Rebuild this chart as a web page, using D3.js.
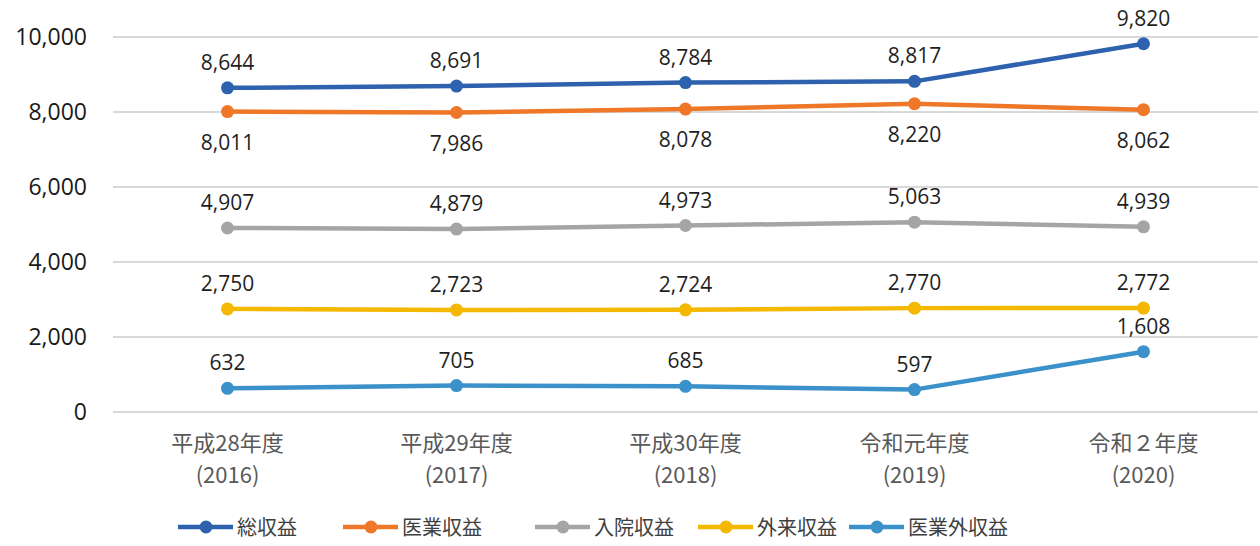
<!DOCTYPE html>
<html>
<head>
<meta charset="utf-8">
<script src="https://cdn.jsdelivr.net/npm/d3@7"></script>
<style>
  html, body { margin: 0; padding: 0; background: #fff; }
  svg text { font-family: "Noto Sans CJK JP", "Noto Sans", sans-serif; }
</style>
</head>
<body>
<svg id="chart" width="1260" height="546"></svg>
<script>
// 年度ラベル
const categories = ['平成28年度', '平成29年度', '平成30年度', '令和元年度', '令和２年度'];
const years = ['(2016)', '(2017)', '(2018)', '(2019)', '(2020)'];

// 系列データ
const seriesNames = ['総収益', '医業収益', '入院収益', '外来収益', '医業外収益'];
const totalRevenue = [8644, 8691, 8784, 8817, 9820];
const medicalRevenue = [8011, 7986, 8078, 8220, 8062];
const inpatientRevenue = [4907, 4879, 4973, 5063, 4939];
const outpatientRevenue = [2750, 2723, 2724, 2770, 2772];
const nonMedicalRevenue = [632, 705, 685, 597, 1608];
const yTicks = [0, 2000, 4000, 6000, 8000, 10000];

const colors = ['#2E62AE', '#EE7728', '#A5A5A5', '#F4B800', '#3B92CA'];
const labelPos = ['above', 'below', 'above', 'above', 'above'];
const seriesValues = [totalRevenue, medicalRevenue, inpatientRevenue, outpatientRevenue, nonMedicalRevenue];

const svg = d3.select('#chart');
const plotLeft = 113, plotRight = 1258, plotTop = 37, plotBottom = 412;

const x = d3.scaleBand().domain(categories).range([plotLeft, plotRight]);
const y = d3.scaleLinear().domain([0, 10000]).range([plotBottom, plotTop]);
const fmt = d3.format(',');

// グリッド線
svg.append('g')
  .selectAll('line')
  .data(yTicks)
  .join('line')
  .attr('x1', plotLeft).attr('x2', plotRight)
  .attr('y1', d => y(d)).attr('y2', d => y(d))
  .attr('stroke', '#d9d9d9')
  .attr('stroke-width', 2);

// Y軸ラベル
const yAxis = svg.append('g')
  .attr('transform', `translate(${plotLeft - 26},0)`)
  .call(d3.axisLeft(y).tickValues(yTicks).tickFormat(fmt).tickSize(0).tickPadding(0));
yAxis.select('.domain').remove();
yAxis.selectAll('text')
  .attr('font-size', 23)
  .attr('fill', '#1a1a1a')
  .style('font-family', '"Open Sans", "Noto Sans", sans-serif');

// X軸ラベル(2行)
const xLab = svg.append('g')
  .selectAll('g')
  .data(categories)
  .join('g')
  .attr('transform', d => `translate(${x(d) + x.bandwidth() / 2},0)`);
xLab.append('text')
  .attr('y', 451)
  .attr('text-anchor', 'middle')
  .attr('font-size', 22)
  .attr('fill', '#595959')
  .text(d => d);
xLab.append('text')
  .attr('y', 483)
  .attr('text-anchor', 'middle')
  .attr('font-size', 22)
  .attr('fill', '#595959')
  .text((d, i) => years[i]);

// 折れ線
const line = d3.line()
  .x((d, i) => x(categories[i]) + x.bandwidth() / 2)
  .y(d => y(d));

seriesValues.forEach((vals, s) => {
  const g = svg.append('g');
  g.append('path')
    .datum(vals)
    .attr('d', line)
    .attr('fill', 'none')
    .attr('stroke', colors[s])
    .attr('stroke-width', 4.5)
    .attr('stroke-linejoin', 'round');
  g.selectAll('circle')
    .data(vals)
    .join('circle')
    .attr('cx', (d, i) => x(categories[i]) + x.bandwidth() / 2)
    .attr('cy', d => y(d))
    .attr('r', 6.5)
    .attr('fill', colors[s]);
  g.selectAll('text')
    .data(vals)
    .join('text')
    .attr('x', (d, i) => x(categories[i]) + x.bandwidth() / 2)
    .attr('y', d => labelPos[s] === 'above' ? y(d) - 18 : y(d) + 38)
    .attr('text-anchor', 'middle')
    .attr('font-size', 21)
    .attr('fill', '#1f1f1f')
    .style('font-family', '"Open Sans", "Noto Sans", sans-serif')
    .text(d => fmt(d));
});

// 凡例
const legendX = [178, 343, 535, 698, 849];
const legend = svg.append('g')
  .selectAll('g')
  .data(seriesNames)
  .join('g')
  .attr('transform', (d, i) => `translate(${legendX[i]},527)`);
legend.append('line')
  .attr('x1', 0).attr('x2', 55)
  .attr('stroke', (d, i) => colors[i])
  .attr('stroke-width', 4.5);
legend.append('circle')
  .attr('cx', 28).attr('r', 6.5)
  .attr('fill', (d, i) => colors[i]);
legend.append('text')
  .attr('x', 59)
  .attr('y', 8)
  .attr('font-size', 20)
  .attr('fill', '#404040')
  .text(d => d);
</script>
</body>
</html>
